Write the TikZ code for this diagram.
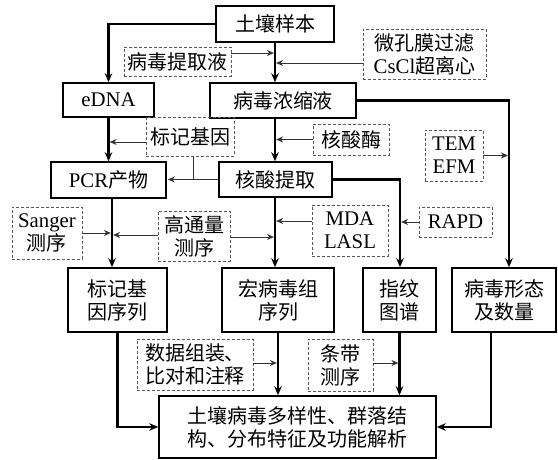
\documentclass[tikz,border=0pt]{standalone}
\usepackage{fontspec}
\setmainfont{Liberation Serif}[Scale=1.04]
\newfontfamily\cjk{Noto Sans CJK SC}
\usetikzlibrary{arrows.meta}
\begin{document}
\begin{tikzpicture}[x=1pt,y=-1pt,
  every node/.style={font=\fontsize{20}{23}\selectfont, align=center, inner sep=0pt},
  box/.style 2 args={draw, line width=1.5pt, minimum width=#1pt, minimum height=#2pt},
  dbox/.style 2 args={draw=black!65, dash pattern=on 3pt off 2pt, line width=0.9pt, minimum width=#1pt, minimum height=#2pt},
  main/.style={line width=2.3pt, -{Stealth[length=9pt,width=7.5pt]}},
  side/.style={line width=0.9pt, black!80, shorten >=1.1pt, -{Stealth[length=7pt,width=6pt]}},
  sidel/.style={line width=0.9pt, black!80},
]
\useasboundingbox (0,0) rectangle (558,460);

\node[box={118}{36}] (soil) at (275,24) {\cjk 土壤样本};
\node[box={91}{34}] (edna) at (108.5,100) {eDNA};
\node[box={146}{35}] (conc) at (283,100.5) {\cjk 病毒浓缩液};
\node[dbox={107}{29}] (ext) at (177.5,61.5) {\cjk 病毒提取液};
\node[dbox={123}{50}] (mem) at (424.5,54) {{\cjk 微孔膜过滤}\\CsCl{\cjk 超离心}};
\node[dbox={58}{51}] (tem) at (454,155.5) {TEM\\EFM};
\node[dbox={76}{31}] (nuc) at (351,139.5) {\cjk 核酸酶};
\node[dbox={88}{39}] (mark) at (190,136.5) {\cjk 标记基因};
\node[box={115}{36}] (pcr) at (108.5,180) {PCR{\cjk 产物}};
\node[box={113}{35}] (nae) at (275.5,179.5) {\cjk 核酸提取};
\node[dbox={70}{52}] (sanger) at (47,233) {Sanger\\{\cjk 测序}};
\node[dbox={72}{50}] (hts) at (194,236) {{\cjk 高通量}\\{\cjk 测序}};
\node[dbox={76}{51}] (mda) at (350,230.5) {MDA\\LASL};
\node[dbox={73}{30}] (rapd) at (455.5,222) {RAPD};
\node[box={99}{64}] (mseq) at (117.5,300) {{\cjk 标记基}\\{\cjk 因序列}};
\node[box={112}{64}] (vseq) at (278,300) {{\cjk 宏病毒组}\\{\cjk 序列}};
\node[box={73}{64}] (fp) at (399.5,300) {{\cjk 指纹}\\{\cjk 图谱}};
\node[box={104}{64}] (morph) at (504,300) {{\cjk 病毒形态}\\{\cjk 及数量}};
\node[dbox={116}{51}] (asm) at (195,364.5) {{\cjk 数据组装、}\\{\cjk 比对和注释}};
\node[dbox={65}{52}] (band) at (340.5,365) {{\cjk 条带}\\{\cjk 测序}};
\node[box={277}{62}] (final) at (297.5,427) {{\cjk 土壤病毒多样性、群落结}\\{\cjk 构、分布特征及功能解析}};

\coordinate (rt) at (509,100.5);
\coordinate (ft) at (400,180);
\coordinate (pt) at (112,180);

% top part
\draw[main] (soil.west) -| (edna.north);
\draw[main] (soil.south) -- (soil.south |- conc.north);
\draw[side] ([yshift=8.5pt]ext.east) -- ([yshift=8.5pt]ext.east -| soil.south);
\draw[side] ([yshift=-9pt]mem.west) -- ([yshift=-9pt]mem.west -| soil.south);

% second row
\draw[main] (edna.south) -- (pcr.north);
\draw[side] ([yshift=-5.5pt]mark.west) -- ([yshift=-5.5pt]mark.west -| edna.south);
\draw[main] (soil.south |- conc.south) -- (soil.south |- nae.north);
\draw[side] (nuc.west) -- (nuc.west -| soil.south);
\draw[side] (nae.west) -- (nae.west -| pcr.east);
\draw[sidel] ([xshift=3pt]mark.south) -- ([xshift=3pt]mark.south |- nae.west);
\draw[main] (conc.east) -- (rt) -- (rt |- morph.north);
\draw[side] (tem.east) -- (tem.east -| rt);

% third row
\draw[main] (nae.east) -- (nae.east -| ft) -- (ft |- fp.north);
\draw[main] (pt |- pcr.south) -- (pt |- mseq.north);
\draw[side] (sanger.east) -- (sanger.east -| pt);
\draw[side] ([yshift=1pt]hts.west) -- ([yshift=1pt]hts.west -| pt);
\draw[side] ([yshift=-1pt]hts.east) -- ([yshift=-1pt]hts.east -| soil.south);
\draw[main] (soil.south |- nae.south) -- (soil.south |- vseq.north);
\draw[side] ([yshift=9.5pt]mda.west) -- ([yshift=9.5pt]mda.west -| soil.south);
\draw[side] (rapd.west) -- (rapd.west -| ft);

% bottom
\draw[main] (mseq.south) |- (final.west);
\draw[main] (vseq.south) -- (vseq.south |- final.north);
\draw[main] (fp.south) -- (fp.south |- final.north);
\draw[main] ([xshift=-13pt]morph.south) |- (final.east);
\draw[side] ([yshift=1.5pt]asm.east) -- ([yshift=1.5pt]asm.east -| vseq.south);
\draw[side] ([yshift=2pt]band.east) -- ([yshift=2pt]band.east -| fp.south);
\end{tikzpicture}
\end{document}
